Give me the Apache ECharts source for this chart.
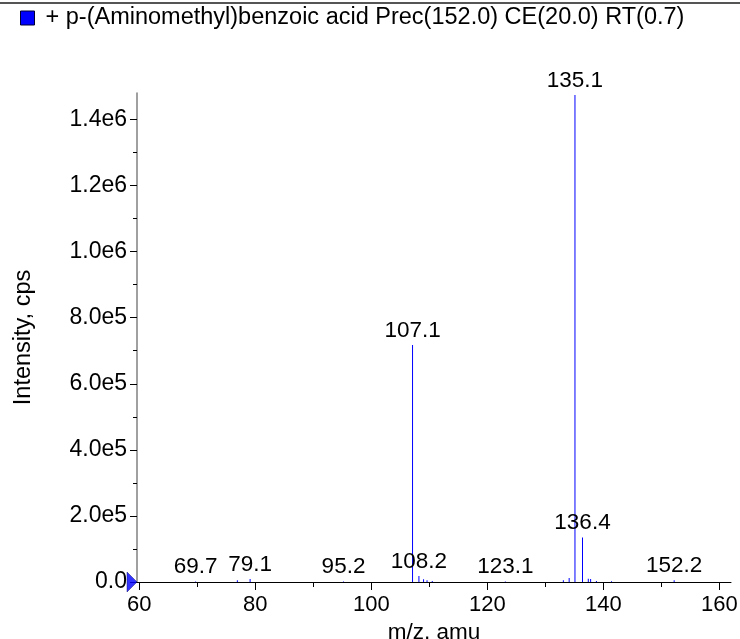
<!DOCTYPE html>
<html>
<head>
<meta charset="utf-8">
<script src="https://cdn.jsdelivr.net/npm/echarts@6/dist/echarts.min.js"></script>
<style>
html,body{margin:0;padding:0;background:#fff;}
#chart{width:740px;height:639px;}
</style>
</head>
<body>
<div id="chart"></div>
<script>
// ---- data ----
const seriesName = '+ p-(Aminomethyl)benzoic acid Prec(152.0) CE(20.0) RT(0.7)';
const mz =        [69.7, 76.9, 79.1, 95.2, 107.1, 108.2, 109.0, 109.6, 110.5, 123.1, 133.1, 134.1, 135.1,   136.4,  137.4, 137.8, 138.8, 141.4, 152.2];
const intensity = [1500, 5000, 9000, 1500, 717000, 18000, 8000, 5000, 3000, 1500, 5000, 12000, 1474000, 135000, 10000, 9000, 3000, 2000, 5000];
const labelled =  [69.7, 79.1, 95.2, 107.1, 108.2, 123.1, 135.1, 136.4, 152.2];
const xMajorTicks = [60, 80, 100, 120, 140, 160];
const xMinorTicks = [70, 90, 110, 130, 150];
const yMajorTicks = [0, 200000, 400000, 600000, 800000, 1000000, 1200000, 1400000];
const yMinorTicks = [100000, 300000, 500000, 700000, 900000, 1100000, 1300000];
const yTickLabels = ['0.0', '2.0e5', '4.0e5', '6.0e5', '8.0e5', '1.0e6', '1.2e6', '1.4e6'];
const xMin = 59.6, xMax = 162, yMax = 1480000;

const font = 'Liberation Sans, Arial, Helvetica, sans-serif';
const chart = echarts.init(document.getElementById('chart'));

const barData = mz.map((m, i) => {
  const item = { value: [m, intensity[i]] };
  if (labelled.includes(m)) {
    item.label = { show: true, formatter: m.toFixed(1) };
  }
  return item;
});

const xBase = { type: 'value', min: xMin, max: xMax, splitLine: { show: false } };
const yBase = { type: 'value', min: 0, max: yMax, splitLine: { show: false } };

chart.setOption({
  animation: false,
  backgroundColor: '#fff',
  legend: {
    data: [seriesName],
    left: 15, top: 1,
    icon: 'rect', itemWidth: 14, itemHeight: 14, itemGap: 10,
    textStyle: { color: '#000', fontSize: 23.5, fontFamily: font, padding: [0, 0, 0, 6] },
    itemStyle: { borderColor: '#000030', borderWidth: 1 }
  },
  grid: { left: 137, right: 9, top: 93, bottom: 57, containLabel: false, outerBoundsMode: 'none' },
  xAxis: [
    Object.assign({}, xBase, {
      name: 'm/z, amu', nameLocation: 'middle', nameGap: 36,
      nameTextStyle: { color: '#000', fontSize: 22.5, fontFamily: font },
      axisLine: { show: true, onZero: false, lineStyle: { color: '#000', width: 1 } },
      axisTick: { show: true, inside: false, length: 8, lineStyle: { color: '#000' }, customValues: xMajorTicks },
      axisLabel: { show: true, margin: 12, color: '#000', fontSize: 22, fontFamily: font, customValues: xMajorTicks }
    }),
    Object.assign({}, xBase, {
      position: 'bottom',
      axisLine: { show: false },
      axisTick: { show: true, length: 5, lineStyle: { color: '#000' }, customValues: xMinorTicks },
      axisLabel: { show: false }
    })
  ],
  yAxis: [
    Object.assign({}, yBase, {
      name: 'Intensity, cps', nameLocation: 'middle', nameGap: 101,
      nameTextStyle: { color: '#000', fontSize: 23.5, fontFamily: font },
      axisLine: { show: true, onZero: false, lineStyle: { color: '#808080', width: 1.5 } },
      axisTick: { show: true, length: 7, lineStyle: { color: '#000' }, customValues: yMajorTicks },
      axisLabel: {
        show: true, margin: 10, color: '#000', fontSize: 23, fontFamily: font,
        customValues: yMajorTicks,
        formatter: v => yTickLabels[yMajorTicks.indexOf(v)] ?? ''
      }
    }),
    Object.assign({}, yBase, {
      position: 'left',
      axisLine: { show: false },
      axisTick: { show: true, length: 4, lineStyle: { color: '#000' }, customValues: yMinorTicks },
      axisLabel: { show: false }
    })
  ],
  series: [
    {
      name: seriesName,
      type: 'bar',
      xAxisIndex: 0, yAxisIndex: 0,
      barWidth: 1,
      itemStyle: { color: '#0000ff' },
      label: {
        show: false, position: 'top', distance: 3,
        color: '#000', fontSize: 22.5, fontFamily: font
      },
      data: barData,
      z: 3
    },
    {
      name: 'marker',
      type: 'scatter',
      xAxisIndex: 0, yAxisIndex: 0,
      symbol: 'triangle',
      symbolRotate: -90,
      symbolSize: [20, 10],
      symbolOffset: [-5, 0],
      clip: false,
      itemStyle: { color: '#0000ff', borderColor: '#000060', borderWidth: 0.5 },
      silent: true,
      data: [[xMin, 0]],
      z: 5
    }
  ],
  graphic: [
    { type: 'rect', left: 0, top: 2, shape: { width: 740, height: 2 }, style: { fill: '#555' } }
  ]
});
</script>
</body>
</html>
